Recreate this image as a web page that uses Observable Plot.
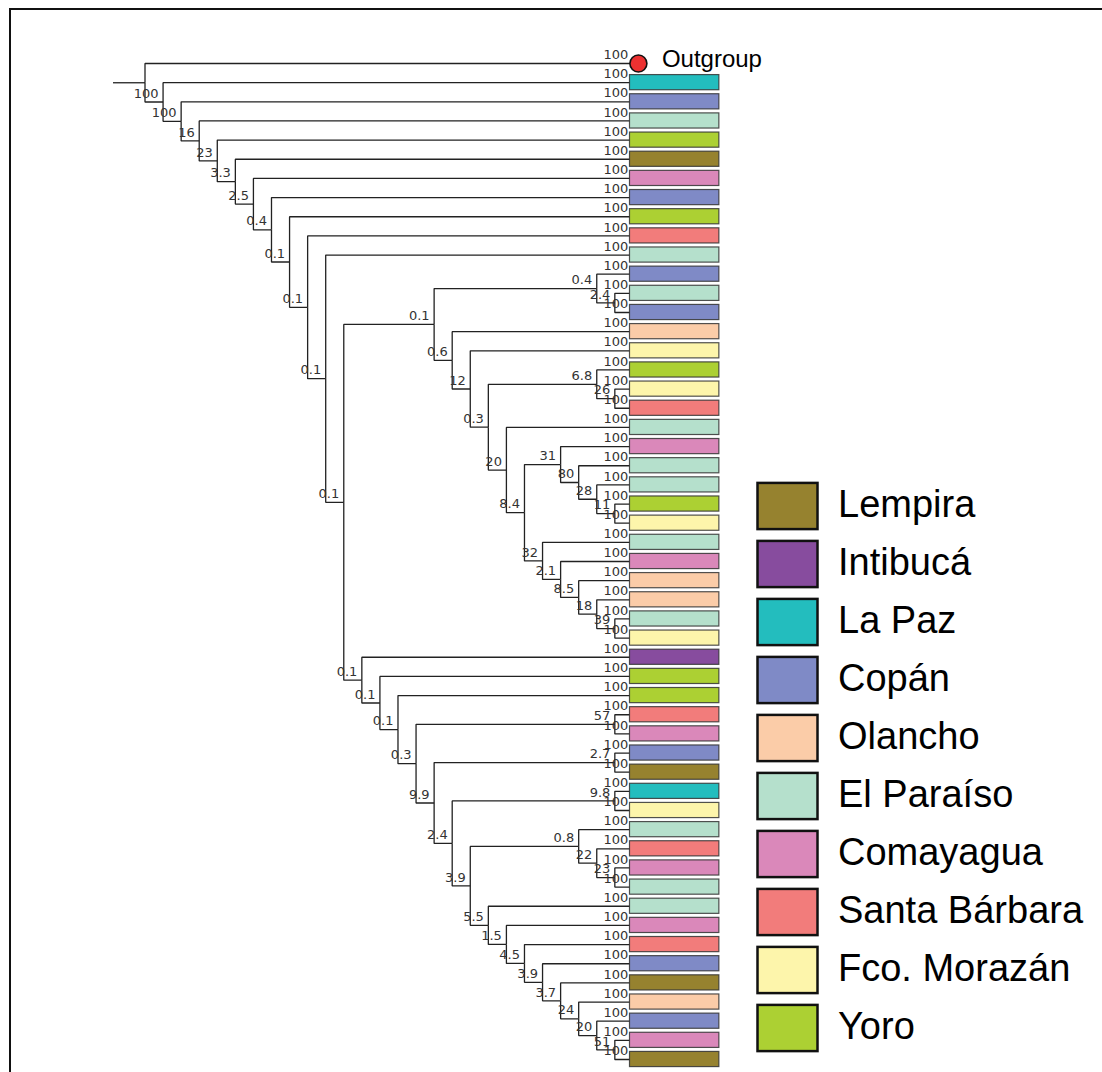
<!DOCTYPE html>
<html>
<head>
<meta charset="utf-8">
<script src="https://cdn.jsdelivr.net/npm/d3@7"></script>
<script src="https://cdn.jsdelivr.net/npm/@observablehq/plot@0.6"></script>
<style>
html, body { margin: 0; padding: 0; background: #fff; overflow: hidden; }
#wrap { position: relative; width: 1102px; height: 1072px; overflow: hidden; }
#wrap svg { position: absolute; left: 0; top: 0; background: transparent; }
#frame { position: absolute; left: 9px; top: 8px; width: 1200px; height: 1200px;
  border-left: 2.5px solid #111; border-top: 2.5px solid #111; }
</style>
</head>
<body>
<div id="wrap"><div id="frame"></div></div>
<script>
// Leaf order, top to bottom (department of each sample)
const leafDepartments = [
  "Outgroup", "La Paz", "Copán", "El Paraíso", "Yoro", "Lempira", "Comayagua", "Copán",
  "Yoro", "Santa Bárbara", "El Paraíso", "Copán", "El Paraíso", "Copán", "Olancho",
  "Fco. Morazán", "Yoro", "Fco. Morazán", "Santa Bárbara", "El Paraíso", "Comayagua",
  "El Paraíso", "El Paraíso", "Yoro", "Fco. Morazán", "El Paraíso", "Comayagua", "Olancho",
  "Olancho", "El Paraíso", "Fco. Morazán", "Intibucá", "Yoro", "Yoro", "Santa Bárbara",
  "Comayagua", "Copán", "Lempira", "La Paz", "Fco. Morazán", "El Paraíso", "Santa Bárbara",
  "Comayagua", "El Paraíso", "El Paraíso", "Comayagua", "Santa Bárbara", "Copán", "Lempira",
  "Olancho", "Copán", "Comayagua", "Lempira"
];

// Internal nodes: [name, upper child, lower child, support]; numeric children are leaf indices
const clades = [
  ["root", "0", "B", ""],
  ["B", "1", "C", "100"],
  ["C", "2", "D", "100"],
  ["D", "3", "E", "16"],
  ["E", "4", "F", "23"],
  ["F", "5", "G", "3.3"],
  ["G", "6", "H", "2.5"],
  ["H", "7", "I", "0.4"],
  ["I", "8", "J", "0.1"],
  ["J", "9", "K", "0.1"],
  ["K", "10", "L", "0.1"],
  ["L", "M", "N", "0.1"],
  ["M", "M1", "M2", "0.1"],
  ["M1", "11", "M1b", "0.4"],
  ["M1b", "12", "13", "2.4"],
  ["M2", "14", "M3", "0.6"],
  ["M3", "15", "M4", "12"],
  ["M4", "M4a", "M5", "0.3"],
  ["M4a", "16", "M4b", "6.8"],
  ["M4b", "17", "18", "26"],
  ["M5", "19", "M6", "20"],
  ["M6", "M7", "M10", "8.4"],
  ["M7", "20", "M8", "31"],
  ["M8", "21", "M9", "80"],
  ["M9", "22", "M9b", "28"],
  ["M9b", "23", "24", "11"],
  ["M10", "25", "M11", "32"],
  ["M11", "26", "M12", "2.1"],
  ["M12", "27", "M13", "8.5"],
  ["M13", "28", "M14", "18"],
  ["M14", "29", "30", "39"],
  ["N", "31", "N2", "0.1"],
  ["N2", "32", "N3", "0.1"],
  ["N3", "33", "N4", "0.1"],
  ["N4", "N4a", "N5", "0.3"],
  ["N4a", "34", "35", "57"],
  ["N5", "N5a", "N6", "9.9"],
  ["N5a", "36", "37", "2.7"],
  ["N6", "N6a", "N7", "2.4"],
  ["N6a", "38", "39", "9.8"],
  ["N7", "N7a", "N8", "3.9"],
  ["N7a", "40", "N7b", "0.8"],
  ["N7b", "41", "N7c", "22"],
  ["N7c", "42", "43", "23"],
  ["N8", "44", "N9", "5.5"],
  ["N9", "45", "N10", "1.5"],
  ["N10", "46", "N11", "4.5"],
  ["N11", "47", "N12", "3.9"],
  ["N12", "48", "N13", "3.7"],
  ["N13", "49", "N14", "24"],
  ["N14", "50", "N15", "20"],
  ["N15", "51", "52", "51"]
];
const leafSupport = "100";

const legendOrder = ["Lempira", "Intibucá", "La Paz", "Copán", "Olancho", "El Paraíso",
  "Comayagua", "Santa Bárbara", "Fco. Morazán", "Yoro"];
const legendColors = ["#96822f", "#874c9e", "#23bdbe", "#7f8ac6", "#fbcca8", "#b5e0cc",
  "#da88ba", "#f27c7b", "#fdf5ab", "#acd033"];

// ---- build hierarchy ----
const rows = [{id: clades[0][0], parent: null}];
const supportOf = new Map();
for (const [name, a, b, s] of clades) {
  supportOf.set(name, s);
  rows.push({id: a, parent: name}, {id: b, parent: name});
}
const root = d3.stratify().id(d => d.id).parentId(d => d.parent)(rows);
d3.cluster().nodeSize([1, 1]).separation(() => 1)(root);
const nodes = root.descendants();
const minX = d3.min(root.leaves(), d => d.x);
for (const n of nodes) {
  n.idx = n.x - minX;
  n.level = n.y;
  n.isLeaf = !n.children;
  n.dept = n.isLeaf ? leafDepartments[+n.id] : null;
  n.label = n.isLeaf ? leafSupport : supportOf.get(n.id);
}
const maxLevel = d3.max(nodes, d => d.level);
const links = nodes.filter(d => d.parent).map(d => ({
  x1: d.parent.level, y1: d.parent.idx, x2: d.level, y2: d.idx
}));
const leaves = nodes.filter(d => d.isLeaf);
const boxed = leaves.filter(d => d.dept !== "Outgroup");
const outgroup = leaves.filter(d => d.dept === "Outgroup");
const stubLevels = 1.77;
const boxLevels = 5;

const treeFont = "DejaVu Sans, Verdana, sans-serif";
const sansFont = "Liberation Sans, Arial, Helvetica, sans-serif";

const tree = Plot.plot({
  width: 1102, height: 1072,
  margin: 0,
  x: {domain: [0, maxLevel], range: [144.5, 632.4], axis: null},
  y: {domain: [0, leaves.length - 1], range: [63, 1059], axis: null},
  color: {domain: legendOrder, range: legendColors},
  style: {background: "transparent"},
  marks: [
    Plot.link([root], {x1: -stubLevels, x2: 0, y1: d => d.idx, y2: d => d.idx,
      stroke: "#222", strokeWidth: 1.3}),
    Plot.link(links, {x1: "x1", y1: "y1", x2: "x2", y2: "y2", curve: "step-before",
      stroke: "#222", strokeWidth: 1.3}),
    Plot.rect(boxed, {
      x1: d => d.level, x2: d => d.level + boxLevels,
      y1: d => d.idx - 0.5, y2: d => d.idx + 0.5,
      insetTop: 2, insetBottom: 2, insetLeft: -2.9, insetRight: 3.9,
      fill: d => d.dept, stroke: "#333", strokeWidth: 1.2, strokeOpacity: 0.85
    }),
    Plot.dot(outgroup, {x: d => d.level, y: d => d.idx, dx: 5.5, r: 8.5,
      fill: "#ec3131", stroke: "#111", strokeWidth: 1.6}),
    Plot.text(outgroup, {x: d => d.level, y: d => d.idx, text: d => d.dept,
      dx: 29, dy: -4, textAnchor: "start", fontSize: 24, fontFamily: sansFont, fill: "#000"}),
    Plot.text(nodes.filter(d => d.label), {x: d => d.level, y: d => d.idx, text: d => d.label,
      dx: -4.5, dy: -8.5, textAnchor: "end", fontSize: 13, fontFamily: treeFont, fill: "#333"})
  ]
});

const legend = Plot.plot({
  width: 1102, height: 1072,
  marginLeft: 757.5, marginRight: 284.5, marginTop: 473.4, marginBottom: 10.6,
  x: {axis: null},
  y: {type: "band", domain: legendOrder, padding: 0, axis: null},
  color: {domain: legendOrder, range: legendColors},
  style: {background: "transparent"},
  marks: [
    Plot.cell(legendOrder, {y: d => d, fill: d => d, stroke: "#111", strokeWidth: 2.5,
      insetTop: 5.9, insetBottom: 5.9}),
    Plot.text(legendOrder, {y: d => d, text: d => d, frameAnchor: "left", textAnchor: "start",
      dx: 80, dy: -2, fontSize: 38, fontFamily: sansFont, fill: "#000"})
  ]
});

const wrap = document.getElementById("wrap");
wrap.appendChild(tree);
wrap.appendChild(legend);
</script>
</body>
</html>
